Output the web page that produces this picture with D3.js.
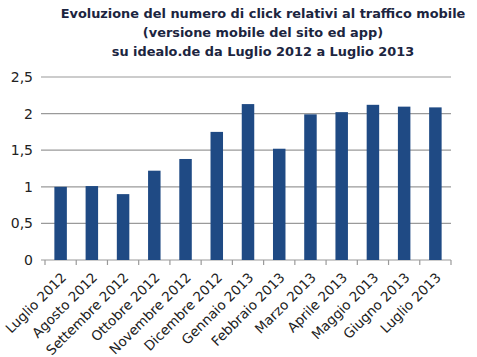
<!DOCTYPE html>
<html><head><meta charset="utf-8">
<script src="https://cdn.jsdelivr.net/npm/d3@7"></script>
<style>body{margin:0;background:#fff}svg{display:block}</style>
</head><body>
<script>
const titleLines = ["Evoluzione del numero di click relativi al traffico mobile","(versione mobile del sito ed app)","su idealo.de da Luglio 2012 a Luglio 2013"];
const categories = ["Luglio 2012","Agosto 2012","Settembre 2012","Ottobre 2012","Novembre 2012","Dicembre 2012","Gennaio 2013","Febbraio 2013","Marzo 2013","Aprile 2013","Maggio 2013","Giugno 2013","Luglio 2013"];
const values = [1.0,1.01,0.9,1.22,1.38,1.75,2.13,1.52,1.99,2.02,2.12,2.095,2.085];
const yTicks = [0,0.5,1,1.5,2,2.5];
const yTickLabels = ["0","0,5","1","1,5","2","2,5"];

const W=477,H=357;
const svg=d3.select("body").append("svg").attr("width",W).attr("height",H);
const m={l:45,r:26,t:77,b:97};
const x=d3.scaleBand().domain(categories).range([m.l,W-m.r]).paddingInner(0.6).paddingOuter(0.3);
const y=d3.scaleLinear().domain([0,2.5]).range([H-m.b,m.t]);

// title
const tl=svg.append("g").selectAll("text").data(titleLines).join("text")
 .attr("x",263).attr("y",(d,i)=>18+i*19).attr("text-anchor","middle")
 .attr("font-family","DejaVu Sans").attr("font-weight","bold").attr("font-size",14)
 .attr("fill","#1c2540").text(d=>d);
const w0=tl.node().getComputedTextLength();
tl.attr("font-size",Math.min(14,14*405/w0));

// gridlines
svg.append("g").selectAll("line").data(yTicks).join("line")
 .attr("x1",m.l-4).attr("x2",W-m.r).attr("y1",d=>y(d)).attr("y2",d=>y(d))
 .attr("stroke","#9a9a9a").attr("stroke-width",1.2);

// y labels
svg.append("g").selectAll("text").data(yTicks).join("text")
 .attr("x",33).attr("y",d=>y(d)).attr("dy","0.35em").attr("text-anchor","end")
 .attr("font-family","DejaVu Sans").attr("font-size",14).attr("fill","#222")
 .text((d,i)=>yTickLabels[i]);

// bars
svg.append("g").selectAll("rect").data(values).join("rect")
 .attr("x",(d,i)=>x(categories[i])).attr("width",x.bandwidth())
 .attr("y",d=>y(d)).attr("height",d=>y(0)-y(d)).attr("fill","#1f4a84");

// x axis ticks at boundaries
const bounds=d3.range(categories.length+1).map(i=>m.l+i*((W-m.r-m.l)/categories.length));
svg.append("g").selectAll("line").data(bounds).join("line")
 .attr("x1",d=>d).attr("x2",d=>d).attr("y1",y(0)).attr("y2",y(0)+5)
 .attr("stroke","#9a9a9a").attr("stroke-width",1.2);

// x labels
svg.append("g").selectAll("text").data(categories).join("text")
 .attr("transform",d=>`translate(${x(d)+x.bandwidth()/2+3},${y(0)+15}) rotate(-45)`)
 .attr("text-anchor","end").attr("dy","0.35em")
 .attr("font-family","DejaVu Sans").attr("font-size",13.5).attr("fill","#222")
 .text(d=>d);
</script>
</body></html>
